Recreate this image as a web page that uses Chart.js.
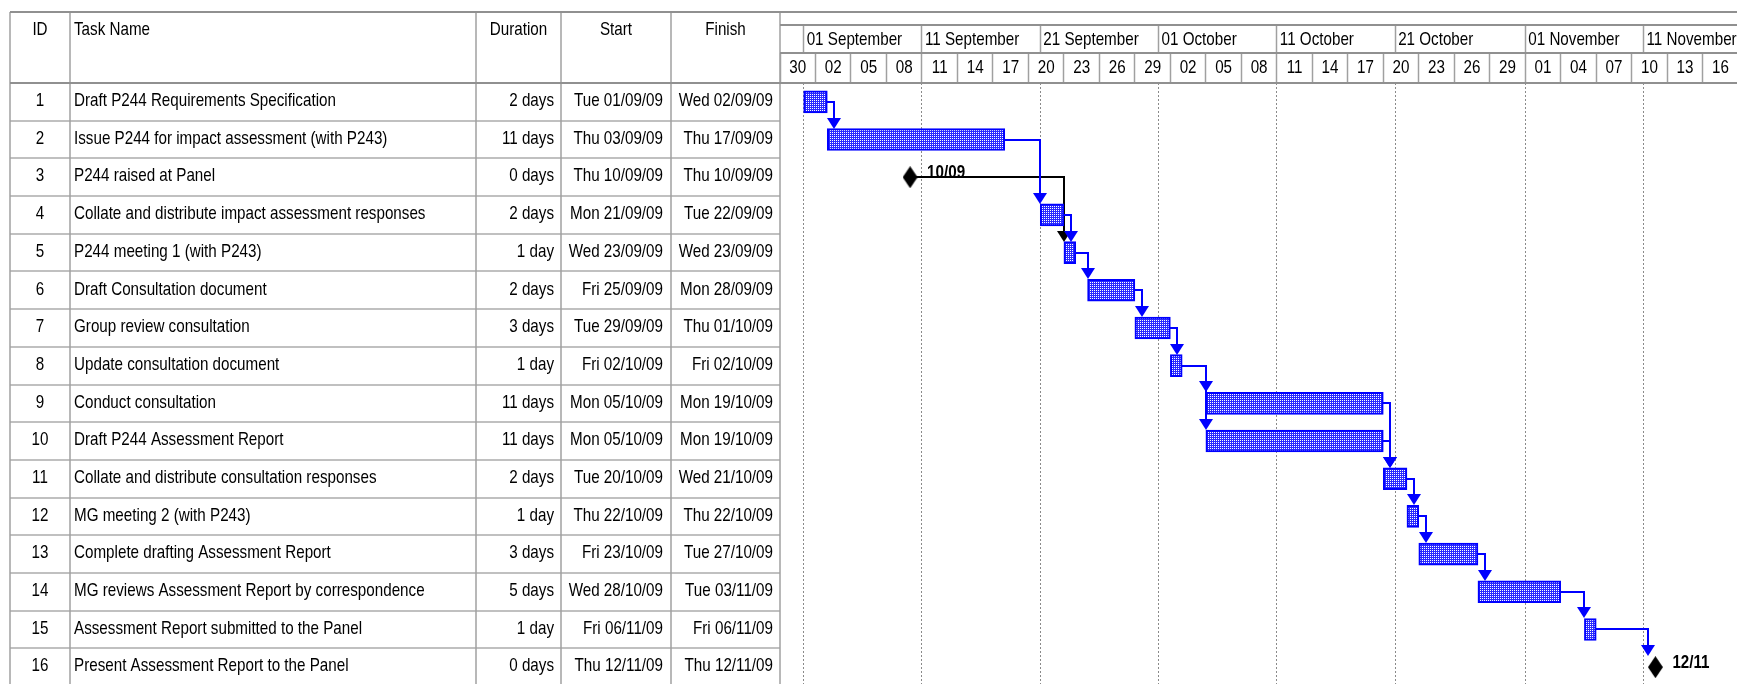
<!DOCTYPE html>
<html>
<head>
<meta charset="utf-8">
<title>P244 Gantt</title>
<script src="https://cdn.jsdelivr.net/npm/chart.js@4.4.0/dist/chart.umd.min.js"></script>
<style>
  html, body { margin: 0; padding: 0; background: #ffffff; overflow: hidden; }
  canvas { display: block; }
</style>
</head>
<body>
<canvas id="gantt" width="1737" height="686"></canvas>
<script>
// ============================================
// DATA
// ============================================

const taskIds = [1, 2, 3, 4, 5, 6, 7, 8, 9, 10, 11, 12, 13, 14, 15, 16];

const taskNames = [
  'Draft P244 Requirements Specification',
  'Issue P244 for impact assessment (with P243)',
  'P244 raised at Panel',
  'Collate and distribute impact assessment responses',
  'P244 meeting 1 (with P243)',
  'Draft Consultation document',
  'Group review consultation',
  'Update consultation document',
  'Conduct consultation',
  'Draft P244 Assessment Report',
  'Collate and distribute consultation responses',
  'MG meeting 2 (with P243)',
  'Complete drafting Assessment Report',
  'MG reviews Assessment Report by correspondence',
  'Assessment Report submitted to the Panel',
  'Present Assessment Report to the Panel'
];

const durations = ['2 days', '11 days', '0 days', '2 days', '1 day', '2 days', '3 days', '1 day',
  '11 days', '11 days', '2 days', '1 day', '3 days', '5 days', '1 day', '0 days'];

const starts = ['Tue 01/09/09', 'Thu 03/09/09', 'Thu 10/09/09', 'Mon 21/09/09', 'Wed 23/09/09',
  'Fri 25/09/09', 'Tue 29/09/09', 'Fri 02/10/09', 'Mon 05/10/09', 'Mon 05/10/09', 'Tue 20/10/09',
  'Thu 22/10/09', 'Fri 23/10/09', 'Wed 28/10/09', 'Fri 06/11/09', 'Thu 12/11/09'];

const finishes = ['Wed 02/09/09', 'Thu 17/09/09', 'Thu 10/09/09', 'Tue 22/09/09', 'Wed 23/09/09',
  'Mon 28/09/09', 'Thu 01/10/09', 'Fri 02/10/09', 'Mon 19/10/09', 'Mon 19/10/09', 'Wed 21/10/09',
  'Thu 22/10/09', 'Tue 27/10/09', 'Tue 03/11/09', 'Fri 06/11/09', 'Thu 12/11/09'];

// predecessor IDs for each task (finish-to-start links)
const predecessors = [[], [1], [], [2], [3, 4], [5], [6], [7], [8], [8], [9, 10], [11], [12], [13], [14], [15]];

// timescale
const timelineStart = '30/08/09';
const majorTickDates = ['01/09/09', '11/09/09', '21/09/09', '01/10/09', '11/10/09', '21/10/09', '01/11/09', '11/11/09'];
const majorTickLabels = ['01 September', '11 September', '21 September', '01 October', '11 October',
  '21 October', '01 November', '11 November'];
const minorTickLabels = ['30', '02', '05', '08', '11', '14', '17', '20', '23', '26', '29', '02', '05', '08',
  '11', '14', '17', '20', '23', '26', '29', '01', '04', '07', '10', '13', '16'];
const minorStepDays = 3;
const visibleDays = 80.9;

// ============================================
// HELPERS
// ============================================

const FONT = "'Liberation Sans', Arial, sans-serif";
const SQUEEZE = 0.8;           // the printout uses a narrow face
const GANTT_LEFT = 780;
const COLS = [10, 70, 476, 561, 671, 780];   // table column borders

function toUtc(ddmmyy) {
  const [d, m, y] = ddmmyy.split('/').map(Number);
  return Date.UTC(2000 + y, m - 1, d);
}
const originUtc = toUtc(timelineStart);
function dayOf(ddmmyy) { return (toUtc(ddmmyy) - originUtc) / 86400000; }
function dateOf(s) { return s.split(' ')[1]; }

const isMilestone = durations.map(d => d.startsWith('0 '));
const startDay = starts.map(s => dayOf(dateOf(s)));
const endDay = finishes.map((f, i) => isMilestone[i] ? startDay[i] : dayOf(dateOf(f)) + 1);

const barRanges = taskIds.map((_, i) => isMilestone[i] ? null : [startDay[i], endDay[i]]);
const milestonePoints = taskIds
  .map((id, i) => isMilestone[i] ? { x: startDay[i], y: String(id) } : null)
  .filter(p => p);
const majorTickDays = majorTickDates.map(dayOf);

// text squeezed sideways
function narrowText(c, text, x, y, align, bold) {
  c.save();
  c.font = (bold ? 'bold ' : '') + '19px ' + FONT;
  c.textAlign = align;
  c.textBaseline = 'middle';
  c.fillStyle = '#000000';
  c.translate(x, y);
  c.scale(SQUEEZE, 1);
  c.fillText(text, 0, 0);
  c.restore();
}

// blue dotted fill like the MS Project bar
function makeHatch() {
  const c = document.createElement('canvas');
  c.width = 2; c.height = 2;
  const g = c.getContext('2d');
  g.fillStyle = '#2a2aff'; g.fillRect(0, 0, 2, 2);
  g.fillStyle = '#ffffff'; g.fillRect(0, 0, 1, 1);
  return g.createPattern(c, 'repeat');
}

// tall black diamond for milestones
function makeDiamond(w, h) {
  const c = document.createElement('canvas');
  c.width = w; c.height = h;
  const g = c.getContext('2d');
  g.fillStyle = '#000000';
  g.beginPath();
  g.moveTo(w / 2, 0); g.lineTo(w, h / 2); g.lineTo(w / 2, h); g.lineTo(0, h / 2);
  g.closePath(); g.fill();
  return c;
}

// ============================================
// PLUGINS
// ============================================

// dependency arrows, drawn under the bars
const linkPlugin = {
  id: 'links',
  beforeDatasetsDraw(chart) {
    const { ctx } = chart;
    const x = chart.scales.x, y = chart.scales.y;
    const links = [];
    predecessors.forEach((preds, i) => preds.forEach(pid => links.push([taskIds.indexOf(pid), i])));
    // black milestone links first so the blue ones sit on top
    links.sort((a, b) => (isMilestone[b[0]] ? 1 : 0) - (isMilestone[a[0]] ? 1 : 0));
    ctx.save();
    ctx.lineWidth = 2;
    links.forEach(([p, s]) => {
      const x0 = Math.round(x.getPixelForValue(endDay[p]));
      const y0 = Math.round(y.getPixelForValue(p));
      const sx = x.getPixelForValue(startDay[s]);
      const dropX = Math.round(isMilestone[s] ? sx - 7 : Math.max(x0 + 7, sx));
      const y1 = Math.round(y.getPixelForValue(s)) - 11;
      const col = isMilestone[p] ? '#000000' : '#0000ff';
      ctx.strokeStyle = col;
      ctx.fillStyle = col;
      ctx.beginPath();
      ctx.moveTo(x0, y0);
      ctx.lineTo(dropX, y0);
      ctx.lineTo(dropX, y1 - 10);
      ctx.stroke();
      ctx.beginPath();
      ctx.moveTo(dropX - 7, y1 - 11);
      ctx.lineTo(dropX + 7, y1 - 11);
      ctx.lineTo(dropX, y1);
      ctx.closePath();
      ctx.fill();
    });
    ctx.restore();
  },
  afterDatasetsDraw(chart) {
    // milestone date labels
    const meta = chart.getDatasetMeta(0);
    let k = 0;
    taskIds.forEach((_, i) => {
      if (!isMilestone[i]) return;
      const pt = meta.data[k++];
      narrowText(chart.ctx, dateOf(starts[i]).slice(0, 5), pt.x + 17, pt.y - 4, 'left', true);
    });
  }
};

// the task table on the left, the header frame and the timescale labels
const tablePlugin = {
  id: 'table',
  afterDraw(chart) {
    const { ctx, chartArea } = chart;
    const x = chart.scales.x, x2 = chart.scales.x2, y = chart.scales.y;
    const W = chart.width;
    const top = 12, headBottom = chartArea.top, bottom = chart.height;
    const rowH = (chartArea.bottom - chartArea.top) / taskIds.length;
    ctx.save();

    // row separators (table only)
    ctx.strokeStyle = '#c0c0c0';
    ctx.lineWidth = 2;
    for (let i = 1; i <= taskIds.length; i++) {
      const ry = Math.round(chartArea.top + i * rowH);
      ctx.beginPath(); ctx.moveTo(COLS[0], ry); ctx.lineTo(GANTT_LEFT, ry); ctx.stroke();
    }

    // column borders
    ctx.strokeStyle = '#a0a0a0';
    ctx.lineWidth = 1.5;
    COLS.forEach(cx => {
      ctx.beginPath(); ctx.moveTo(cx, top); ctx.lineTo(cx, bottom); ctx.stroke();
    });

    // header frame lines
    ctx.strokeStyle = '#909090';
    ctx.lineWidth = 2;
    [[COLS[0], top, W], [GANTT_LEFT, 25, W], [GANTT_LEFT, 53, W], [COLS[0], headBottom, W]].forEach(([x0, ly, x1]) => {
      ctx.beginPath(); ctx.moveTo(x0, ly); ctx.lineTo(x1, ly); ctx.stroke();
    });
    ctx.restore();

    // header text
    const hy = 30;
    narrowText(ctx, 'ID', (COLS[0] + COLS[1]) / 2, hy, 'center');
    narrowText(ctx, 'Task Name', COLS[1] + 4, hy, 'left');
    narrowText(ctx, 'Duration', (COLS[2] + COLS[3]) / 2, hy, 'center');
    narrowText(ctx, 'Start', (COLS[3] + COLS[4]) / 2, hy, 'center');
    narrowText(ctx, 'Finish', (COLS[4] + COLS[5]) / 2, hy, 'center');

    // rows
    taskIds.forEach((id, i) => {
      const ty = y.getPixelForValue(i) - 1;
      narrowText(ctx, String(id), (COLS[0] + COLS[1]) / 2, ty, 'center');
      narrowText(ctx, taskNames[i], COLS[1] + 4, ty, 'left');
      narrowText(ctx, durations[i], COLS[3] - 7, ty, 'right');
      narrowText(ctx, starts[i], COLS[4] - 8, ty, 'right');
      narrowText(ctx, finishes[i], COLS[5] - 7, ty, 'right');
    });

    // timescale labels, placed from the scales' own ticks
    const half = (x.getPixelForValue(minorStepDays) - x.getPixelForValue(0)) / 2;
    x.ticks.forEach((t, i) => narrowText(ctx, minorTickLabels[i], x.getPixelForValue(t.value) + half, 68, 'center'));
    x2.ticks.forEach((t, i) => narrowText(ctx, majorTickLabels[i], x2.getPixelForValue(t.value) + 3, 40, 'left'));
  }
};

// ============================================
// CHART
// ============================================

const ctx = document.getElementById('gantt').getContext('2d');

const ganttChart = new Chart(ctx, {
  type: 'bar',
  data: {
    labels: taskIds.map(String),
    datasets: [
      {
        type: 'scatter',
        label: 'Milestones',
        data: milestonePoints,
        pointStyle: makeDiamond(15, 22),
        pointRadius: 11,
        xAxisID: 'x',
        yAxisID: 'y'
      },
      {
        type: 'bar',
        label: 'Tasks',
        data: barRanges,
        backgroundColor: makeHatch(),
        borderColor: '#0000ff',
        borderWidth: 2,
        borderSkipped: false,
        barThickness: 22,
        xAxisID: 'x',
        yAxisID: 'y'
      }
    ]
  },
  options: {
    indexAxis: 'y',
    responsive: false,
    animation: false,
    events: [],
    layout: { autoPadding: false, padding: { top: 25, left: 0, right: 0, bottom: 0 } },
    plugins: {
      legend: { display: false },
      tooltip: { enabled: false }
    },
    scales: {
      y: {
        type: 'category',
        offset: true,
        afterFit: s => { s.width = GANTT_LEFT; },
        ticks: { display: false },
        grid: { display: false },
        border: { display: false }
      },
      x: {
        type: 'linear',
        position: 'top',
        weight: 0,
        min: 0,
        max: visibleDays,
        afterBuildTicks: s => { s.ticks = minorTickLabels.map((_, i) => ({ value: i * minorStepDays })); },
        afterFit: s => { s.height = 30; },
        ticks: { display: false },
        grid: { drawOnChartArea: false, drawTicks: true, tickLength: 30, tickColor: '#a0a0a0', tickWidth: 1.5 },
        border: { display: false }
      },
      x2: {
        type: 'linear',
        position: 'top',
        weight: 1,
        min: 0,
        max: visibleDays,
        afterBuildTicks: s => { s.ticks = majorTickDays.map(v => ({ value: v })); },
        afterFit: s => { s.height = 28; },
        ticks: { display: false },
        grid: {
          drawOnChartArea: true, drawTicks: true, tickLength: 28,
          color: '#8a8a8a', lineWidth: 1,
          tickColor: '#a0a0a0', tickWidth: 1.5, tickBorderDash: []
        },
        border: { display: false, dash: [2, 2] }
      }
    }
  },
  plugins: [linkPlugin, tablePlugin]
});
</script>
</body>
</html>
